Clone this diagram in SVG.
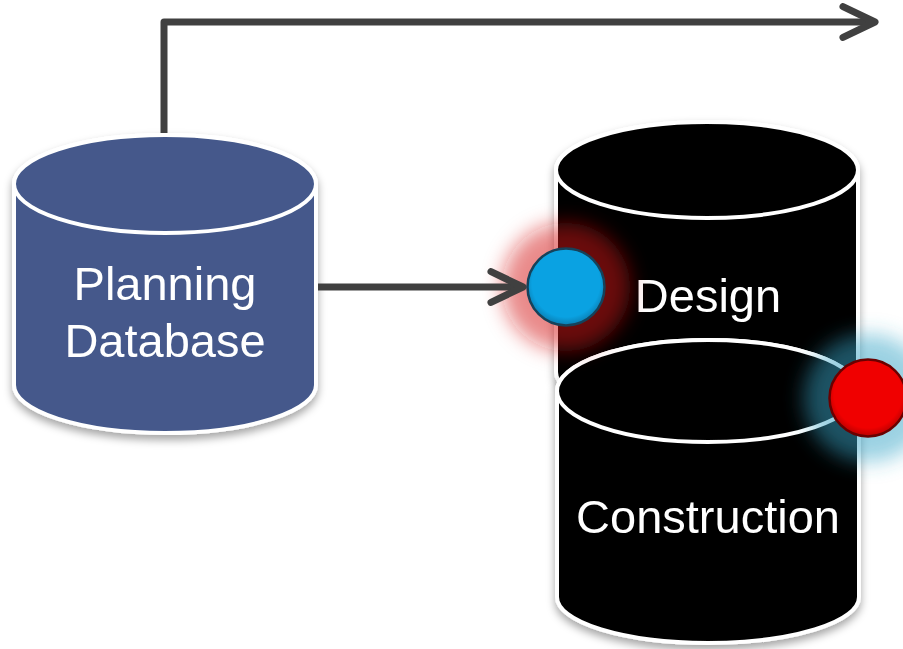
<svg xmlns="http://www.w3.org/2000/svg" width="903" height="649" viewBox="0 0 903 649">
<style>
.cyl{stroke:#fff;stroke-width:4;}
.lbl{font-family:"Liberation Sans",Arial,sans-serif;font-size:47px;fill:#fff;text-anchor:middle;}
.conn{fill:none;stroke:#404040;stroke-width:7;stroke-linejoin:round;}
</style>
<defs>
<filter id="sh" x="-20%" y="-20%" width="140%" height="140%">
<feDropShadow dx="0" dy="5" stdDeviation="4" flood-color="#000" flood-opacity="0.35"/>
</filter>
<filter id="blur" x="-60%" y="-60%" width="220%" height="220%">
<feGaussianBlur stdDeviation="10"/>
</filter>
<marker id="chev" viewBox="0 0 14 12" refX="11.5" refY="6" markerWidth="6.4" markerHeight="5.5" orient="auto" markerUnits="strokeWidth">
<path d="M1.5,1.2 L11.5,6 L1.5,10.8" fill="none" stroke="#404040" stroke-width="2.2" stroke-linecap="round" stroke-linejoin="round"/>
</marker>
<radialGradient id="gBlue" cx="0.5" cy="0.45" r="0.55">
<stop offset="0.8" stop-color="#0aa2e2"/>
<stop offset="1" stop-color="#0a7cb0"/>
</radialGradient>
<radialGradient id="gRed" cx="0.5" cy="0.45" r="0.55">
<stop offset="0.8" stop-color="#f00000"/>
<stop offset="1" stop-color="#b80000"/>
</radialGradient>
</defs>

<g id="planning" filter="url(#sh)">
<path class="cyl" fill="#44598b" d="M14,184 L14,385 A151,48 0 0 0 316,385 L316,184 A151,49 0 0 0 14,184 Z"/>
<ellipse class="cyl" fill="#44598b" cx="165" cy="184" rx="151" ry="49"/>
<text class="lbl" x="165" y="300">Planning</text>
<text class="lbl" x="165" y="357">Database</text>
</g>

<g id="design" filter="url(#sh)">
<path class="cyl" fill="#000" d="M556,170 L556,372 A151,48 0 0 0 858,372 L858,170 A151,48 0 0 0 556,170 Z"/>
<ellipse class="cyl" fill="#000" cx="707" cy="170" rx="151" ry="48"/>
<text class="lbl" x="708" y="312">Design</text>
</g>

<g id="construction" filter="url(#sh)">
<path class="cyl" fill="#000" d="M557,391 L557,597 A151,46 0 0 0 859,597 L859,391 A151,51 0 0 0 557,391 Z"/>
<ellipse class="cyl" fill="#000" cx="708" cy="391" rx="151" ry="51"/>
<text class="lbl" x="708" y="533">Construction</text>
</g>

<g id="glows" filter="url(#blur)">
<circle cx="566" cy="287" r="64" fill="#d41818" fill-opacity="0.5"/>
<circle cx="868" cy="398" r="64" fill="#3aa6c8" fill-opacity="0.5"/>
</g>

<g id="connectors">
<path class="conn" d="M164,133 L164,22 L875,22" marker-end="url(#chev)"/>
<path class="conn" d="M318,287 L523,287" marker-end="url(#chev)"/>
</g>

<g id="inPort">
<circle cx="566" cy="287" r="38.5" fill="url(#gBlue)" stroke="#16425a" stroke-width="2.5"/>
</g>
<g id="outPort">
<circle cx="868" cy="398" r="38.5" fill="url(#gRed)" stroke="#6a0000" stroke-width="2.5"/>
</g>
</svg>
